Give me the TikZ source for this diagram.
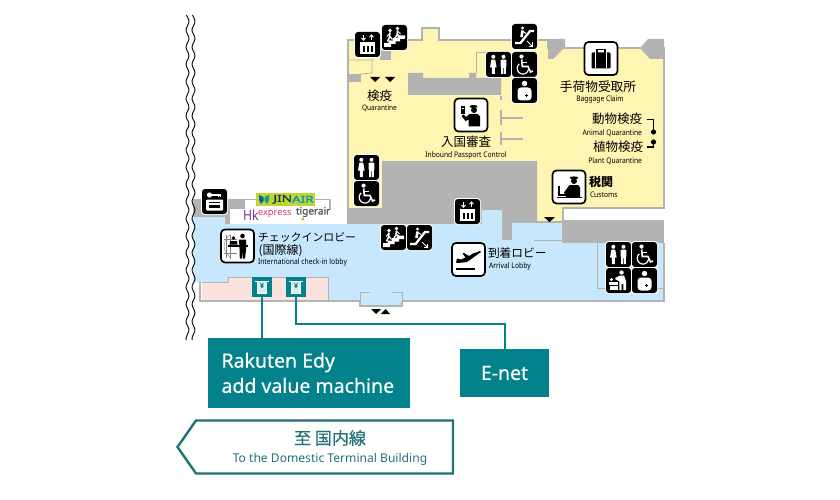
\documentclass[tikz,border=0pt]{standalone}
\usepackage{fontspec}
\setmainfont{Noto Sans}
\newfontfamily\jp{Noto Sans CJK JP}
\newfontfamily\jpmed[FakeBold=0.35]{Noto Sans CJK JP}
\newfontfamily\cond[FakeStretch=0.87]{Noto Sans}
\newfontfamily\med[FakeBold=0.45]{Noto Sans}
\newfontfamily\heavy[FakeBold=1.6]{Noto Sans}
\newfontfamily\wideb[FakeBold=1.4,FakeStretch=1.42]{Noto Sans}
\definecolor{wallgray}{HTML}{B3B3B3}
\definecolor{yel}{HTML}{FFF5B2}
\definecolor{blu}{HTML}{C7E7FD}
\definecolor{pnk}{HTML}{FAE3DF}
\definecolor{tealbox}{HTML}{04828C}
\definecolor{tealline}{HTML}{1F7379}
\definecolor{jingreen}{RGB}{190,214,48}
\definecolor{jinnavy}{RGB}{20,50,90}
\definecolor{jinblue}{RGB}{0,150,190}
\definecolor{butA}{RGB}{20,90,170}
\definecolor{butB}{RGB}{20,160,130}
\definecolor{hkpurple}{RGB}{130,50,150}
\definecolor{hkpink}{RGB}{225,50,110}
\definecolor{tigergray}{RGB}{90,90,90}
\definecolor{tigerorange}{RGB}{240,160,40}
\newcommand\fsz[1]{\fontsize{#1}{#1}\selectfont}
\tikzset{
  lbl/.style={inner sep=0pt,outer sep=0pt,text=black},
  wall/.style={draw=wallgray,line width=1.3pt},
  thinwall/.style={draw=wallgray,line width=.8pt},
  grayfill/.style={fill=wallgray},
  jpn/.style={lbl,font=\jp\fsz{#1}},
  lat/.style={lbl,font=\cond\fsz{#1}},
  tealbx/.style={fill=tealbox,inner sep=0pt,outer sep=0pt,text=white,align=left},
  tealconn/.style={draw=tealbox,line width=2pt},
  tri/.style={fill=black},
}
\newcommand\bicon[3]{%
  \fill[white,rounded corners=3.5pt] (#1-1,#2-1) rectangle ++(27,27);
  \begin{scope}[shift={(#1,#2)}]
    \fill[black,rounded corners=3pt] (0,0) rectangle (25,25);
    \begin{scope}[white,fill=white]#3\end{scope}
  \end{scope}}
\newcommand\wicon[3]{%
  \begin{scope}[shift={(#1,#2)}]
    \draw[black,fill=white,line width=1.7pt,rounded corners=4pt] (0,0) rectangle (33,33);
    #3
  \end{scope}}
\newcommand\gToilet{%
  \fill (7.3,4.8) circle (2);
  \fill (5.4,7.6)--(9.2,7.6)--(10.6,15.5)--(8.8,15.5)--(8.8,22)--(5.8,22)--(5.8,15.5)--(4,15.5)--cycle;
  \fill (17.5,4.8) circle (2);
  \fill[rounded corners=.6pt] (14.6,7.6) rectangle (20.4,15);
  \fill (15.2,14)--(19.8,14)--(19.8,22)--(17.9,22)--(17.9,16)--(17.1,16)--(17.1,22)--(15.2,22)--cycle;}
\newcommand\gWheel{%
  \fill (9.5,4.6) circle (2.1);
  \draw[line width=1.6pt] (9.7,7.5)--(10.3,14.5)--(16,14.5)--(18.5,20)--(21,19);
  \draw[line width=1.2pt] (9.7,10.5)--(15,10.5);
  \draw[line width=1.2pt] (11,16.3) ++(230:5.8) arc[start angle=230,end angle=10,radius=5.8];}
\newcommand\gStairs{%
  \fill (2,22)--(2,18)--(6.5,18)--(6.5,15.5)--(11,15.5)--(11,13)--(15.5,13)--(15.5,10.5)--(23,10.5)--(23,14)--(18,14)--(18,16.5)--(13.5,16.5)--(13.5,19)--(9,19)--(9,22)--cycle;
  \fill (8,5.5) circle (1.8); \fill (15.5,3.5) circle (1.8);
  \draw[line width=1.5pt] (8,7.5)--(7.5,12)--(5.5,16.5);\draw[line width=1.2pt] (7.7,11)--(10.5,14.5);\draw[line width=1pt] (8,8)--(5,11.5);
  \draw[line width=1.5pt] (15.5,5.5)--(15,10)--(13,13);\draw[line width=1.2pt] (15.2,9)--(18,11.5);\draw[line width=1pt] (15.5,6)--(18.5,9);}
\newcommand\gEsc{%
  \draw[line width=2.3pt] (3,19)--(8.5,19)--(18,7)--(22,7);
  \fill (10.5,4) circle (1.7);
  \draw[line width=2.6pt] (10.5,6.5)--(9.5,13);
  \draw[line width=1pt] (10.5,7)--(14,9.5);
  \draw[line width=1pt] (15,17)--(21,23);
  \draw[line width=1pt] (20.8,18.5)--(20.8,22.8)--(16.5,22.8);}
\newcommand\gElev{%
  \draw[line width=1pt] (8.5,3)--(8.5,8);\draw[line width=.9pt] (6.5,6)--(8.5,8.2)--(10.5,6);
  \draw[line width=1pt] (16.5,8.3)--(16.5,3.2);\draw[line width=.9pt] (14.5,5.2)--(16.5,3)--(18.5,5.2);
  \fill (5,10) rectangle (20,22);
  \fill[black] (7.5,14) rectangle (9.5,20);\fill[black] (11.5,14) rectangle (13.5,20);\fill[black] (15.5,14) rectangle (17.5,20);}
\newcommand\gNurse{%
  \fill (12.5,5.5) circle (2.7);
  \fill[rounded corners=3.5pt] (5.5,9.5) rectangle (19.5,22.5);
  \draw[black,line width=.8pt] (13,17.5)--(16,17.5) (14.5,16)--(14.5,19);}
\newcommand\gBaby{%
  \fill (15.5,4.5) circle (2.2);
  \fill (14,7.5)--(18,7.5)--(20,13)--(20,22)--(17.3,22)--(17.3,16)--(15.5,16)--(15.5,22)--(13.3,22)--(13.3,13.5)--(9,11)--(10,9.5)--cycle;
  \fill (3,14) rectangle (12,16.5);
  \fill (4,18) rectangle (12,22);
  \fill (5.5,11.5) circle (1.6);}
\newcommand\gKey{%
  \fill (7.5,6) circle (2.6);
  \fill (7.5,5.2) rectangle (19,6.8);
  \fill (16,6.8) rectangle (17.2,8.2);\fill (18,6.8) rectangle (19,8.2);
  \fill[rounded corners=1pt] (4,10.5) rectangle (21,21.5);
  \fill[black] (7,13) rectangle (18,14);
  \fill[black] (7,15.5) rectangle (18,19);}
\newcommand\gBag{%
  \draw[line width=1.6pt] (12.5,11)--(12.5,7.5)--(20.5,7.5)--(20.5,11);
  \fill[rounded corners=1.2pt] (7,10.5) rectangle (26,26.5);
  \fill[white] (10.5,10.5) rectangle (11.5,26.5);
  \fill[white] (21.5,10.5) rectangle (22.5,26.5);}
\newcommand\gOfficer{%
  \fill (19,8) ellipse (4 and 1.5);
  \fill (19.5,11.5) circle (3);
  \fill (15,15.5)--(23,15.5)--(25.5,18)--(25.5,28)--(14,28)--(14,21)--(11,22.5)--(7,17.5)--(9,16)--(11.5,18.5)--cycle;
  \fill (6,8) rectangle (10.5,15.5);
  \fill[white] (7,9.3) rectangle (9.5,11);}
\newcommand\gCustoms{%
  \fill (21.5,7.3) ellipse (4.3 and 1.4);
  \fill (21.5,10.5) circle (3);
  \fill (17,14.5)--(25.5,14.5)--(27.5,17)--(27.5,27)--(14,27)--(11.5,22)--cycle;
  \draw[line width=1.6pt] (6.5,15)--(6.5,24.5)--(13,24.5);
  \draw[line width=1.6pt] (4,27)--(29,27);}
\newcommand\gCheckin{%
  \begin{scope}[gray,line width=.4pt]
    \draw (5,5)--(5,28) (9,5)--(9,29) (3,10)--(16,10) (3,24)--(16,24);
    \draw (16,16.5) ++(120:13) arc[start angle=120,end angle=240,radius=13];
  \end{scope}
  \fill (12.5,8.5) circle (1.9);
  \fill (9,11.5)--(16,11.5)--(16.5,15)--(8.5,15)--cycle;
  \fill (21.5,6.5) circle (2.3);
  \fill (18,10)--(25,10)--(25,21)--(24,29)--(21.8,29)--(21.5,21)--(20.8,29)--(18.8,29)--(18.5,19)--cycle;
  \fill (7,15.5) rectangle (26.5,17);}
\newcommand\gPlane{%
  \fill (4,19.5)--(6,20)--(15,19)--(22,14)--(29,9)--(28,8)--(21,10.5)--(17,13)--(12,10)--(10.5,10.5)--(13.5,14.5)--(9,16.5)--(5,15.5)--cycle;
  \fill (3.5,24.5) rectangle (23,26.5);}
\begin{document}
\begin{tikzpicture}[x=1pt,y=-1pt,line join=miter]
\useasboundingbox (0,0) rectangle (840,500);
\fill[white] (0,0) rectangle (840,500);
% yellow zone
\filldraw[fill=yel,wall] (348,40)--(422,40)--(422,28)--(439,28)--(439,40)--(548,40)--(548,48)--(664,48)--(664,208)--(563,208)--(563,222)--(348,222)--cycle;
% gray walls top
\fill[grayfill] (408,73)--(423,73)--(423,78)--(469,78)--(469,73)--(476,73)--(476,78)--(501,78)--(501,95)--(408,95)--cycle;
\fill[grayfill] (348,74)--(361,74)--(361,82)--(348,82)--cycle;
\fill[grayfill] (380,50)--(391,50)--(391,60)--(380,60)--cycle;
\draw[thinwall] (348,60)--(373,60)--(373,50) (361,74)--(372,73)--(372,60);
\draw[thinwall] (476,73)--(476,52)--(501,52)--(501,60);
\fill[grayfill] (548,39)--(565,39)--(565,47)--(553,59)--(548,59)--cycle;
\fill[grayfill] (640,48)--(648,39)--(664,39)--(664,59)--(650,59)--cycle;
\draw[wall] (501,96)--(501,100) (501,110)--(501,125) (501,132)--(501,145);
\draw[wall] (501,118)--(523,118) (501,139)--(523,139);
% lower gray
\fill[grayfill] (382,161)--(537,161)--(537,241)--(460,241)--(460,224)--(347,224)--(347,208)--(382,208)--cycle;
\fill[white] (564,209.5) rectangle (664,220);
\fill[grayfill] (562,220)--(664,220)--(664,243)--(562,243)--cycle;
\fill[grayfill] (193,199)--(245,199)--(245,209)--(230,209)--(230,224)--(225,224)--(225,217)--(193,217)--cycle;
\draw[wall] (245,199.7)--(330,199.7)--(330,209);
\fill[white] (230,209) rectangle (347,224);
% blue hall
\fill[blu] (193,217)--(225,217)--(225,224)--(482,224)--(482,210)--(502,210)--(502,240)--(512,240)--(512,223)--(562,223)--(562,243)--(663,243)--(663,300)--(328,300)--(328,277)--(228,277)--(228,282)--(193,282)--cycle;
\draw[thinwall] (534,240)--(562,240) (597,243)--(597,288)--(606,288) (657,288)--(663,288);
% pink
\fill[pnk] (202,282)--(228,282)--(228,277)--(328,277)--(328,300)--(202,300)--cycle;
\draw[thinwall] (202,282)--(228,282)--(228,277)--(328,277)--(328,300);
\draw[wall] (200,282)--(200,301)--(360,301) (402,301)--(664,301)--(664,243);
% lower door
\fill[blu] (360,292) rectangle (402,305);
\draw[wall] (360,301)--(360,306)--(402,306)--(402,301);
\draw[draw=wallgray,line width=.8pt] (360,305)--(360,292)--(370,292) (392,292)--(402,292)--(402,305);
% triangles
\fill[tri] (370,77)--(380,77)--(375,82)--cycle;
\fill[tri] (385,77)--(395,77)--(390,82)--cycle;
\fill[tri] (544,217)--(555,217)--(549.5,222)--cycle;
\fill[tri] (371,309)--(381,309)--(376,314)--cycle;
\fill[tri] (381,314)--(390,314)--(385.5,309)--cycle;
% break lines
\draw[black,line width=.9pt] plot[smooth,domain=15:340,samples=120] ({187.5+1.5*sin(\x*21)},\x);
\draw[black,line width=.9pt] plot[smooth,domain=15:340,samples=120] ({193.5+1.5*sin(\x*21)},\x);
% icons black
\bicon{355}{32}{\gElev}
\bicon{382}{25}{\gStairs}
\bicon{512}{24}{\gEsc}
\bicon{486}{52}{\gToilet}
\bicon{512}{52}{\gWheel}
\bicon{512}{78}{\gNurse}
\bicon{354}{155}{\gToilet}
\bicon{354}{181}{\gWheel}
\bicon{202}{189}{\gKey}
\bicon{381}{225}{\gStairs}
\bicon{407}{225}{\gEsc}
\bicon{455}{199}{\gElev}
\bicon{606}{242}{\gToilet}
\bicon{632}{242}{\gWheel}
\bicon{606}{268}{\gBaby}
\bicon{632}{268}{\gNurse}
% icons white
\wicon{584.5}{42}{\gBag}
\wicon{454.5}{98.5}{\gOfficer}
\wicon{552.5}{170.5}{\gCustoms}
\wicon{221}{229.5}{\gCheckin}
\wicon{452}{243}{\gPlane}
% labels
\node[jpn=12.5] (q1) at (379.5,96) {検疫};
\node[lat=7.5] (q2) at (379.5,108) {Quarantine};
\node[jpn=12.5] (p1) at (466,142) {入国審査};
\node[lat=7.7] (p2) at (466,155) {Inbound Passport Control};
\node[jpn=12.7] (b1) at (598,87) {手荷物受取所};
\node[lat=7.7] (b2) at (600,99) {Baggage Claim};
\node[jpn=12.5,anchor=east] (a1) at (642,119) {動物検疫};
\node[lat=7.7,anchor=east] (a2) at (642,133) {Animal Quarantine};
\node[jpn=12.5,anchor=east] (pl1) at (643,147) {植物検疫};
\node[lat=7.7,anchor=east] (pl2) at (642,161) {Plant Quarantine};
\draw[black,line width=1.1pt] (647,119.5)--(653.5,119.5)--(653.5,131);
\fill[black] (653.5,132) circle (2.6);
\fill[black] (653.5,142) circle (2.6);
\draw[black,line width=1.1pt] (653.5,142)--(653.5,147)--(647,147);
\node[lbl,font=\jp\bfseries\fsz{12},anchor=west] (c1) at (589,182) {税関};
\node[lat=7.7,anchor=west] (c2) at (590,195) {Customs};
\node[jpn=10.9,anchor=west] (i1) at (258,237) {チェックインロビー};
\node[jpn=12,anchor=west] (i2) at (258.5,251) {(国際線)};
\node[lat=7.8,anchor=west] (i3) at (258,262) {International check-in lobby};
\node[jpn=11.7,anchor=west] (ar1) at (488,253) {到着ロビー};
\node[lat=7.8,anchor=west] (ar2) at (489,266) {Arrival Lobby};
% airline logos
\node[fill=jingreen,minimum width=59pt,minimum height=13pt,inner sep=0pt] (jin) at (285.5,199) {};
\node[lbl,text=jinnavy,font=\wideb\fsz{9.5},anchor=east] (jin1) at (292,199.3) {JIN};
\node[lbl,text=jinblue,font=\wideb\fsz{9.5},anchor=west] (jin2) at (292,199.3) {AIR};
\fill[butA] (259,195)--(263.5,197)--(263.5,201)--(261,204)--(259,200)--cycle;
\fill[butB] (269,195)--(264.5,197)--(264.5,201)--(267,204)--(269,200)--cycle;
\node[lbl,text=hkpurple,font=\cond\fsz{14},anchor=west] (hk) at (243,215) {Hk};
\node[lbl,text=hkpink,font=\fsz{9.3},anchor=west] (hkx) at (258,214) {express};
\node[lbl,text=tigergray,font=\heavy\fsz{10},anchor=west] (tg) at (296,212) {tigerair};
\fill[tigerorange] (305,217) arc[start angle=180,end angle=0,radius=0] -- cycle;
\fill[tigerorange] (303,219) circle (1.7);
% teal machines
\node[fill=tealbox,minimum width=20pt,minimum height=20pt,inner sep=0pt,outer sep=0pt] (atm1) at (262,287) {};
\node[fill=tealbox,minimum width=20pt,minimum height=20pt,inner sep=0pt,outer sep=0pt] (atm2) at (296,287) {};
\foreach \cx/\nm in {262/ya,296/yb}{
  \draw[white,line width=1pt] (\cx-7,281)--(\cx+7,281);
  \draw[white,fill=white!85!tealbox,line width=.8pt] (\cx-4.5,281)--(\cx+4.5,281)--(\cx+4.5,293)--(\cx-4.5,293)--cycle;
  \node[lbl,text=tealbox,font=\heavy\fsz{6.5}] (\nm) at (\cx,285.5) {¥};
}
% teal boxes
\node[tealbx,minimum width=202pt,minimum height=70pt] (edy) at (309,373) {};
\node[lbl,text=white,font=\med\fsz{19.5},anchor=west] (edy1) at (221.5,362.5) {Rakuten Edy};
\node[lbl,text=white,font=\med\fsz{19.5},anchor=west] (edy2) at (221.5,385.5) {add value machine};
\node[tealbx,minimum width=89pt,minimum height=48pt,font=\med\fsz{19.5},align=center] (enet) at (504.5,373) {E-net};
\draw[tealconn] (atm1)--(atm1|-edy.north);
\draw[tealconn] (atm2.south)--(296,324)-|(enet.north);
% direction arrow
\filldraw[fill=white,draw=tealline,line width=2.4pt] (453,420.5)--(196,420.5)--(177.5,447)--(196,473.5)--(453,473.5)--cycle;
\node[lbl,text=tealline,font=\jpmed\fsz{17}] (d1) at (330,438) {至 国内線};
\node[lbl,text=tealline,font=\fsz{12.1}] (d2) at (330,459) {To the Domestic Terminal Building};
\end{tikzpicture}
\end{document}
